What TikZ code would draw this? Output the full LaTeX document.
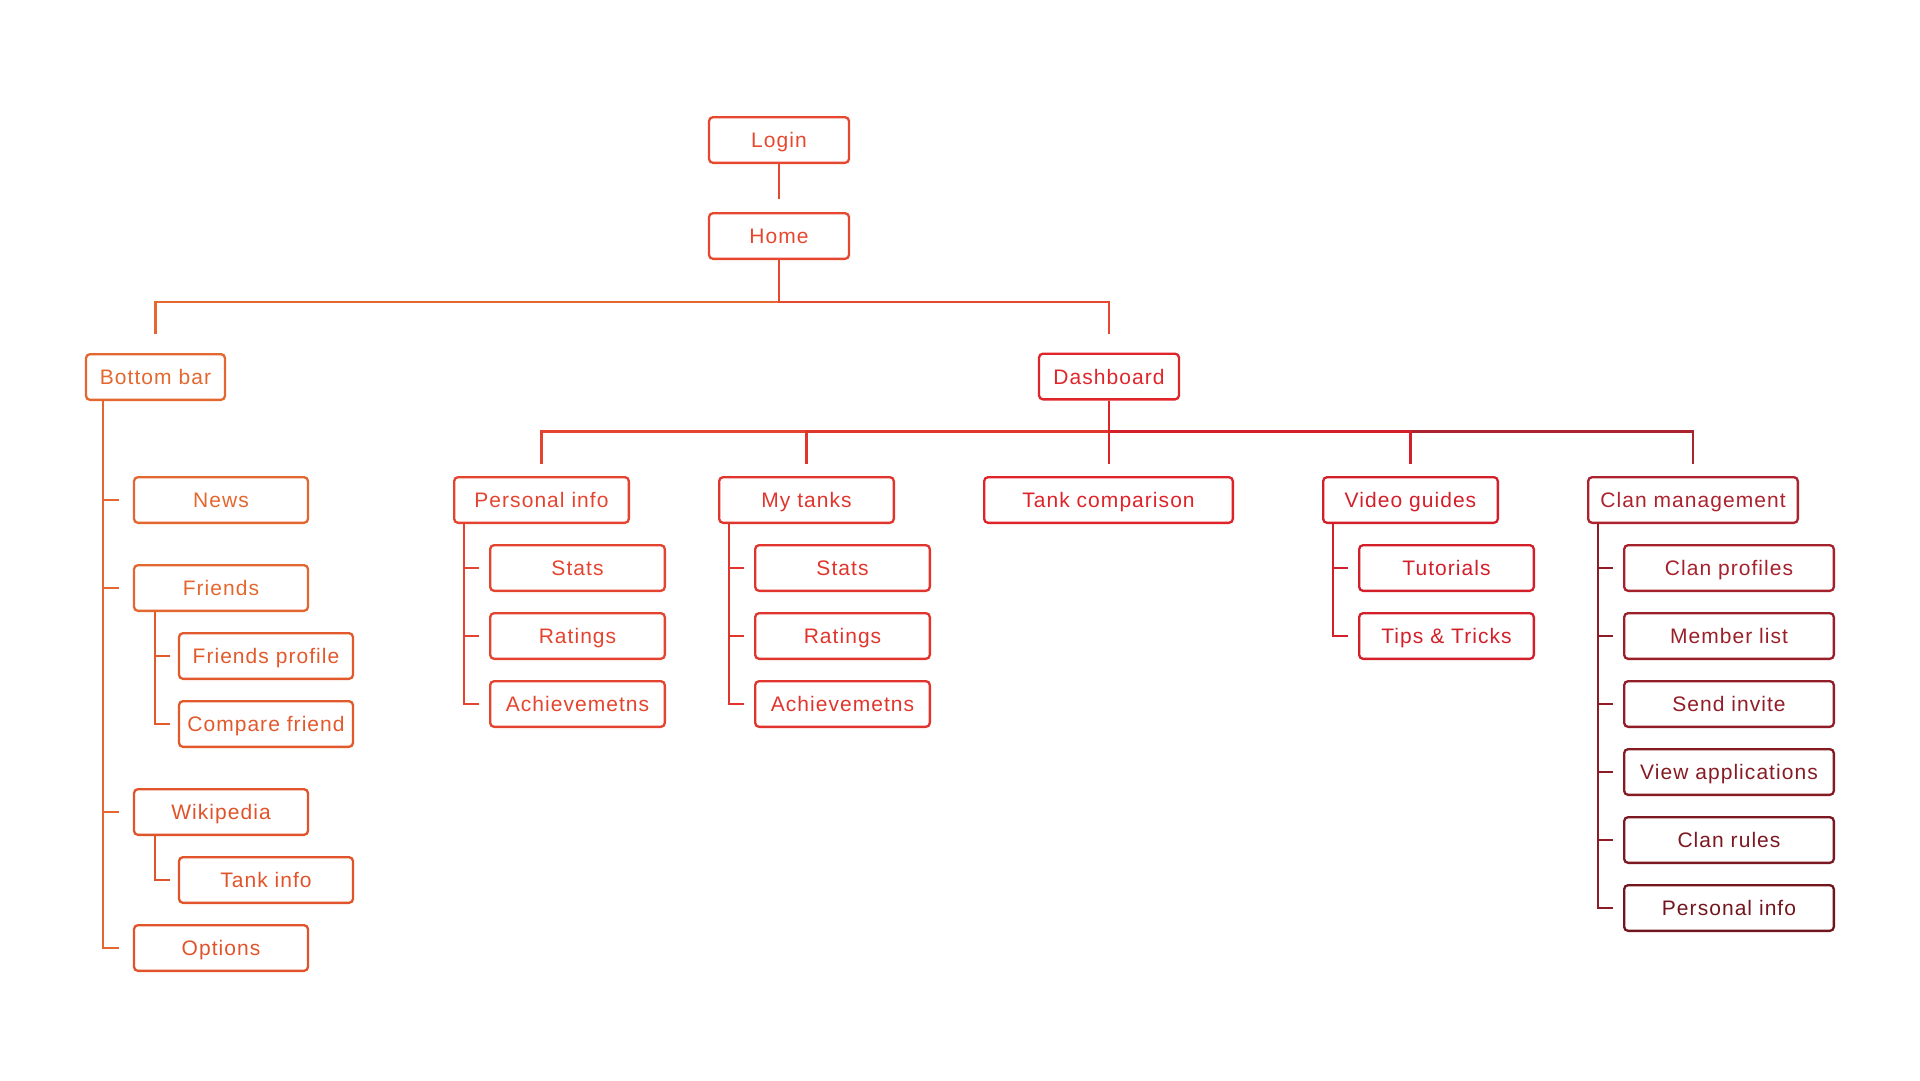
\documentclass[tikz,border=0pt]{standalone}
\usepackage{fontspec}
\setmainfont[LetterSpace=5]{Liberation Sans}
\usetikzlibrary{positioning}

\definecolor{cLogin}{HTML}{E6482F}
\definecolor{cBar}{HTML}{E3672E}
\definecolor{cFr}{HTML}{E2592B}
\definecolor{cWiki}{HTML}{E1532A}
\definecolor{cDash}{HTML}{DF252A}
\definecolor{cPI}{HTML}{E4442F}
\definecolor{cMT}{HTML}{E0352D}
\definecolor{cTC}{HTML}{DE2329}
\definecolor{cVG}{HTML}{D21F2A}
\definecolor{cCM}{HTML}{AC222E}

\begin{document}
\begin{tikzpicture}[
  x=1pt, y=1pt,
  box/.style={
        draw=#1,
        text=#1,
        rounded corners=4pt,
        line width=2.3pt,
        minimum height=45.7pt,
        text height=15pt,
        text depth=0pt,
        font=\fontsize{21}{25}\selectfont
  },
  link/.style={
        draw=#1,
        line width=2.3pt
  }
]

    \useasboundingbox (0,0) rectangle (1920,-1080);

    \node[box=cLogin, minimum width=140pt] (Login) at (779,-140) {Login};
    \node[box=cLogin, minimum width=140pt, below=48pt of Login] (Home) {Home};

    \node[box=cBar, minimum width=139pt] (Bar) at (155.5,-377) {Bottom bar};
    \node[box=cDash, minimum width=140pt] (Dash) at (1109,-376.5) {Dashboard};

    % bottom bar
    \node[box=cBar, minimum width=174pt, below right=75pt and 48pt of Bar.south west] (News) {News};
    \node[box=cBar, minimum width=174pt, below=40pt of News] (Friends) {Friends};
    \node[box=cFr, minimum width=174pt, below right=20pt and 45pt of Friends.south west] (Friends_1) {Friends profile};
    \node[box=cFr, minimum width=174pt, below=20pt of Friends_1] (Friends_2) {Compare friend};
    \node[box=cWiki, minimum width=174pt, below=176pt of Friends] (Wiki) {Wikipedia};
    \node[box=cWiki, minimum width=174pt, below right=20pt and 45pt of Wiki.south west] (Wiki_1) {Tank info};
    \node[box=cWiki, minimum width=174pt, below=88pt of Wiki] (Options) {Options};

    % dashboard
    \node[box=cPI, minimum width=174.7pt] (PI) at (541.5,-500) {Personal info};
    \node[box=cMT, minimum width=174.7pt, right=88pt of PI] (MT) {My tanks};
    \node[box=cTC, minimum width=248.7pt, right=88pt of MT] (TC) {Tank comparison};
    \node[box=cVG, minimum width=174.7pt, right=88pt of TC] (VG) {Video guides};
    \node[box=cCM, minimum width=209.7pt, right=88pt of VG] (CM) {Clan management};

    \node[box=cPI, minimum width=174.7pt, below right=20pt and 36pt of PI.south west] (PI_1) {Stats};
    \node[box=cPI, minimum width=174.7pt, below=20pt of PI_1] (PI_2) {Ratings};
    \node[box=cPI, minimum width=174.7pt, below=20pt of PI_2] (PI_3) {Achievemetns};

    \node[box=cMT, minimum width=174.7pt, below right=20pt and 36pt of MT.south west] (MT_1) {Stats};
    \node[box=cMT, minimum width=174.7pt, below=20pt of MT_1] (MT_2) {Ratings};
    \node[box=cMT, minimum width=174.7pt, below=20pt of MT_2] (MT_3) {Achievemetns};

    \node[box=cVG, minimum width=174.7pt, below right=20pt and 36pt of VG.south west] (VG_1) {Tutorials};
    \node[box=cVG, minimum width=174.7pt, below=20pt of VG_1] (VG_2) {Tips \& Tricks};

    \node[box=cCM!96!black, minimum width=209.7pt, below right=20pt and 36pt of CM.south west] (CM_1) {Clan profiles};
    \node[box=cCM!90!black, minimum width=209.7pt, below=20pt of CM_1] (CM_2) {Member list};
    \node[box=cCM!84!black, minimum width=209.7pt, below=20pt of CM_2] (CM_3) {Send invite};
    \node[box=cCM!78!black, minimum width=209.7pt, below=20pt of CM_3] (CM_4) {View applications};
    \node[box=cCM!72!black, minimum width=209.7pt, below=20pt of CM_4] (CM_5) {Clan rules};
    \node[box=cCM!66!black, minimum width=209.7pt, below=20pt of CM_5] (CM_6) {Personal info};

    % connectors
    \draw[link=cLogin, shorten >=13pt] (Login) -- (Home);
    \draw[link=cBar, shorten >=19pt] (Home.south) -- ++(0,-42) -| (Bar.north);
    \draw[link=cLogin, shorten >=19pt] (Home.south) -- ++(0,-42) -| (Dash.north);

    \foreach \n/\c in {PI/cPI, MT/cMT, CM/cCM, VG/cVG}
        \draw[link=\c, shorten >=12pt] (Dash.south) -- ++(0,-31) -| (\n.north);
    \draw[link=cTC, shorten >=12pt] (Dash.south) -- (Dash.south |- TC.north);

    \foreach \n in {News, Friends, Wiki, Options}
        \draw[link=cBar] ([xshift=18pt]Bar.south west) |- ([xshift=-14pt]\n.west);
    \foreach \n in {Friends_1, Friends_2}
        \draw[link=cFr] ([xshift=22pt]Friends.south west) |- ([xshift=-8pt]\n.west);
    \draw[link=cWiki] ([xshift=22pt]Wiki.south west) |- ([xshift=-8pt]Wiki_1.west);

    \foreach \i in {1,2,3} {
        \draw[link=cPI] ([xshift=11pt]PI.south west) |- ([xshift=-10pt]PI_\i.west);
        \draw[link=cMT] ([xshift=11pt]MT.south west) |- ([xshift=-10pt]MT_\i.west);
    }
    \foreach \i in {1,2}
        \draw[link=cVG] ([xshift=11pt]VG.south west) |- ([xshift=-10pt]VG_\i.west);
    \foreach \i in {1,...,6}
        \draw[link=cCM!82!black] ([xshift=11pt]CM.south west) |- ([xshift=-10pt]CM_\i.west);
\end{tikzpicture}
\end{document}
